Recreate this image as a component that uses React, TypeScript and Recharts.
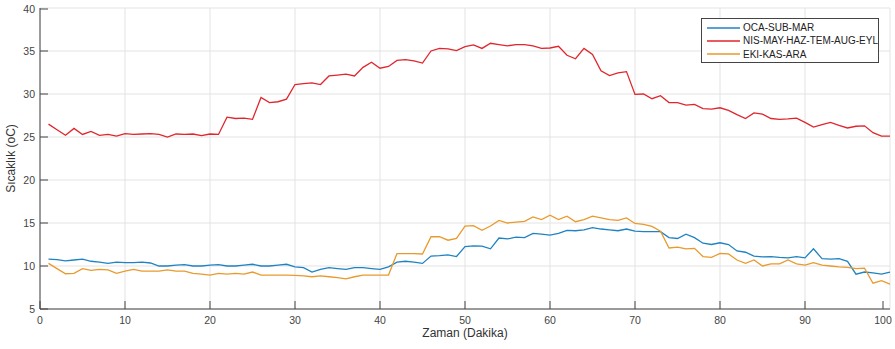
import { CartesianGrid, Line, LineChart, XAxis, YAxis } from 'recharts'

const minutes = Array.from({ length: 100 }, (_, i) => i + 1)

const ocaSubMar = [
  10.8, 10.75, 10.6, 10.7, 10.8, 10.55, 10.45, 10.3, 10.45, 10.4,
  10.4, 10.45, 10.35, 10.0, 10.0, 10.1, 10.15, 10.0, 10.0, 10.1,
  10.15, 10.0, 10.0, 10.1, 10.2, 10.0, 10.0, 10.1, 10.2, 9.9,
  9.8, 9.3, 9.6, 9.8, 9.7, 9.6, 9.8, 9.8, 9.7, 9.6,
  9.9, 10.45, 10.55, 10.45, 10.3, 11.15, 11.2, 11.3, 11.1, 12.25,
  12.35, 12.3, 12.0, 13.25, 13.15, 13.35, 13.3, 13.8, 13.7, 13.6,
  13.8, 14.15, 14.1, 14.2, 14.45, 14.3, 14.2, 14.1, 14.3, 14.05,
  14.0, 14.0, 14.0, 13.3, 13.2, 13.7, 13.3, 12.65, 12.5, 12.7,
  12.5, 11.75, 11.6, 11.15, 11.05, 11.1, 11.0, 10.95, 11.1, 10.95,
  12.0, 10.85, 10.8, 10.85, 10.55, 9.05, 9.3, 9.2, 9.05, 9.3,
]

const nisEyl = [
  26.5, 25.85, 25.2, 26.0, 25.3, 25.65, 25.2, 25.3, 25.1, 25.4,
  25.3, 25.35, 25.4, 25.3, 25.0, 25.35, 25.3, 25.35, 25.15, 25.35,
  25.3, 27.3, 27.15, 27.2, 27.05, 29.6, 29.0, 29.1, 29.4, 31.1,
  31.2, 31.3, 31.1, 32.1, 32.2, 32.3, 32.1, 33.1, 33.7, 33.0,
  33.2, 33.9, 34.0, 33.85, 33.6, 35.0, 35.3, 35.25, 35.05, 35.5,
  35.7, 35.3, 35.9, 35.75, 35.6, 35.75, 35.75, 35.6, 35.3, 35.35,
  35.55, 34.5, 34.1, 35.3, 34.6, 32.7, 32.15, 32.45, 32.6, 29.95,
  30.0, 29.45, 29.8, 29.0, 29.0, 28.7, 28.8, 28.3, 28.25, 28.4,
  28.1, 27.6, 27.15, 27.8, 27.65, 27.15, 27.05, 27.1, 27.2, 26.7,
  26.15, 26.45, 26.7, 26.35, 26.05, 26.25, 26.3, 25.5, 25.1, 25.1,
]

const ekiAra = [
  10.3, 9.7, 9.1, 9.15, 9.7, 9.5, 9.6, 9.55, 9.15, 9.4,
  9.6, 9.4, 9.4, 9.4, 9.55, 9.4, 9.4, 9.15, 9.05, 8.95,
  9.15, 9.05, 9.15, 9.05, 9.3, 8.95, 8.95, 8.95, 8.95, 8.9,
  8.85, 8.75, 8.85, 8.75, 8.65, 8.5, 8.75, 8.95, 8.95, 8.95,
  8.95, 11.45, 11.45, 11.45, 11.4, 13.4, 13.4, 13.0, 13.2, 14.65,
  14.7, 14.15, 14.65, 15.3, 15.0, 15.1, 15.2, 15.7, 15.4, 15.9,
  15.4, 15.8, 15.15, 15.4, 15.8, 15.6, 15.4, 15.3, 15.6, 14.95,
  14.85, 14.6, 14.05, 12.1, 12.2, 12.0, 12.05, 11.1, 11.0, 11.45,
  11.4, 10.7, 10.3, 10.7, 10.0, 10.25, 10.25, 10.7, 10.25, 10.1,
  10.4, 10.1, 10.0, 9.9, 9.85, 9.7, 9.75, 8.0, 8.3, 7.9,
]

const xTicks = [0, 10, 20, 30, 40, 50, 60, 70, 80, 90, 100]
const yTicks = [5, 10, 15, 20, 25, 30, 35, 40]

const series = [
  { key: 'oca', name: 'OCA-SUB-MAR', color: '#1f83c2' },
  { key: 'nis', name: 'NIS-MAY-HAZ-TEM-AUG-EYL', color: '#e0262c' },
  { key: 'eki', name: 'EKI-KAS-ARA', color: '#e99a2c' },
]

const data = minutes.map((m, i) => ({
  minute: m,
  oca: ocaSubMar[i],
  nis: nisEyl[i],
  eki: ekiAra[i],
}))

const font = '"Liberation Sans", Arial, sans-serif'
const axisColor = '#444'
const TICK = 8

// MATLAB-style ticks: short marks pointing into the plot box
function BottomTick(p: any) {
  const { x, y, payload } = p
  return (
    <g>
      <line x1={x} x2={x} y1={y - 8} y2={y - 8 - TICK} stroke={axisColor} />
      <text x={x} y={y} dy="0.71em" textAnchor="middle" fontSize={10.5} fill="#444" fontFamily={font}>
        {payload.value}
      </text>
    </g>
  )
}

function LeftTick(p: any) {
  const { x, y, payload } = p
  return (
    <g>
      <line x1={x + 5} x2={x + 5 + TICK} y1={y} y2={y} stroke={axisColor} />
      <text x={x} y={y} dy="0.355em" textAnchor="end" fontSize={10.5} fill="#444" fontFamily={font}>
        {payload.value}
      </text>
    </g>
  )
}

function TopTick(p: any) {
  const { x, y } = p
  return <line x1={x} x2={x} y1={y} y2={y + TICK} stroke={axisColor} />
}

function RightTick(p: any) {
  const { x, y } = p
  return <line x1={x} x2={x - TICK} y1={y} y2={y} stroke={axisColor} />
}

function LegendBox() {
  return (
    <div
      style={{
        position: 'absolute',
        left: 701,
        top: 18,
        border: `1px solid ${axisColor}`,
        background: '#fff',
        width: 176,
        height: 41,
        boxSizing: 'content-box',
        paddingTop: 2,
        fontFamily: font,
        fontSize: 10,
        color: '#222',
      }}
    >
      {series.map((s) => (
        <div key={s.key} style={{ display: 'flex', alignItems: 'center', height: 13.3 }}>
          <svg width={41} height={10} style={{ flex: 'none' }}>
            <line x1={5} x2={38} y1={5} y2={5} stroke={s.color} strokeWidth={1.4} />
          </svg>
          <span style={{ whiteSpace: 'nowrap' }}>{s.name}</span>
        </div>
      ))}
    </div>
  )
}

export default function App() {
  return (
    <div style={{ position: 'absolute', left: 0, top: 0, width: 895, height: 349, background: '#fff' }}>
      <LineChart
        width={895}
        height={349}
        data={data}
        margin={{ top: 8, right: 5, bottom: 10, left: 0 }}
      >
        <CartesianGrid stroke="#e3e3e3" strokeWidth={1} />
        <XAxis
          dataKey="minute"
          type="number"
          domain={[0, 100]}
          ticks={xTicks}
          height={30}
          tickLine={false}
          tickSize={0}
          tickMargin={8}
          stroke={axisColor}
          tick={<BottomTick />}
          label={{
            value: 'Zaman (Dakika)',
            position: 'insideBottom',
            offset: 2,
            style: { fontSize: 12, fill: '#333', fontFamily: font },
          }}
        />
        <XAxis
          xAxisId="top"
          dataKey="minute"
          orientation="top"
          type="number"
          domain={[0, 100]}
          ticks={xTicks}
          height={0}
          tickLine={false}
          tickSize={0}
          tickMargin={0}
          stroke={axisColor}
          tick={<TopTick />}
        />
        <YAxis
          type="number"
          domain={[5, 40]}
          ticks={yTicks}
          width={40}
          tickLine={false}
          tickSize={0}
          tickMargin={5}
          stroke={axisColor}
          tick={<LeftTick />}
          label={{
            value: 'Sıcaklık (oC)',
            angle: -90,
            position: 'insideLeft',
            offset: 11,
            style: { fontSize: 12, fill: '#333', fontFamily: font, textAnchor: 'middle' },
          }}
        />
        <YAxis
          yAxisId="right"
          orientation="right"
          type="number"
          domain={[5, 40]}
          ticks={yTicks}
          width={0}
          tickLine={false}
          tickSize={0}
          tickMargin={0}
          stroke={axisColor}
          tick={<RightTick />}
        />
        {series.map((s) => (
          <Line
            key={s.key}
            type="linear"
            dataKey={s.key}
            name={s.name}
            stroke={s.color}
            strokeWidth={1.3}
            dot={false}
            activeDot={false}
            isAnimationActive={false}
          />
        ))}
      </LineChart>
      <LegendBox />
    </div>
  )
}
